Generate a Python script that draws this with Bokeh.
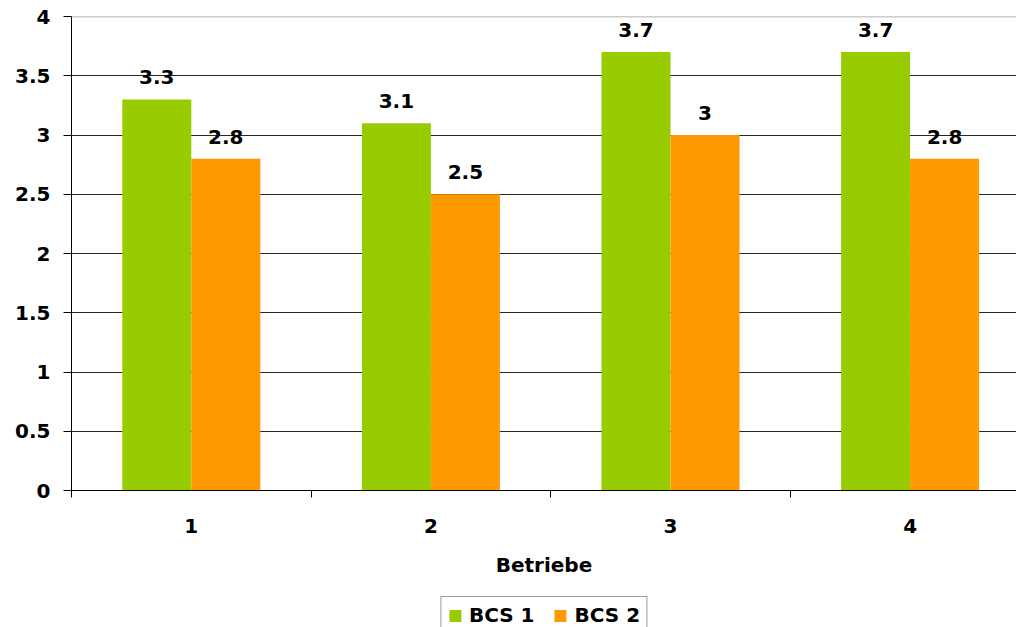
from bokeh.plotting import figure
from bokeh.layouts import column
from bokeh.models import (ColumnDataSource, FixedTicker, Span, Legend, LegendItem,
                          Range1d, LabelSet)
from bokeh.core.properties import value
from bokeh.embed import file_html
from bokeh.resources import INLINE

categories = ["1", "2", "3", "4"]
bcs1 = [3.3, 3.1, 3.7, 3.7]
bcs2 = [2.8, 2.5, 3.0, 2.8]
series_names = ["BCS 1", "BCS 2"]
colors = ["#99CC00", "#FF9900"]
x_title = "Betriebe"

FONT = "DejaVu Sans"
FS = "20px"
bar_w = 0.288

centers = [i + 0.5 for i in range(len(categories))]

p = figure(width=1016, height=592, output_backend="svg", toolbar_location=None,
           x_range=Range1d(0, 945 / 239.6), y_range=Range1d(0, 4),
           min_border_left=71, min_border_right=0, min_border_top=16, min_border_bottom=102)
p.outline_line_color = None
p.background_fill_color = "white"
p.border_fill_color = "white"

src1 = ColumnDataSource(dict(x=[c - bar_w / 2 for c in centers], top=bcs1,
                             lab=[f"{v:g}" for v in bcs1]))
src2 = ColumnDataSource(dict(x=[c + bar_w / 2 for c in centers], top=bcs2,
                             lab=[f"{v:g}" for v in bcs2]))
r1 = p.vbar(x="x", top="top", width=bar_w, bottom=0, source=src1,
            fill_color=colors[0], line_color=None)
r2 = p.vbar(x="x", top="top", width=bar_w, bottom=0, source=src2,
            fill_color=colors[1], line_color=None)

for s in (src1, src2):
    p.add_layout(LabelSet(x="x", y="top", text="lab", source=s, y_offset=15,
                          text_align="center", text_baseline="alphabetic",
                          text_font=value(FONT), text_font_style="bold",
                          text_font_size=FS, text_color="black"))

# axes
p.xaxis.ticker = FixedTicker(ticks=centers, minor_ticks=[0, 1, 2, 3, 4])
p.xaxis.major_label_overrides = {c: lab for c, lab in zip(centers, categories)}
p.xaxis.major_tick_out = 0
p.xaxis.major_tick_in = 0
p.xaxis.minor_tick_out = 7
p.xaxis.minor_tick_in = 0
p.xaxis.minor_tick_line_color = "black"
p.xaxis.axis_line_color = "black"
p.xaxis.major_label_standoff = 21
p.xaxis.axis_label = x_title
p.xaxis.axis_label_standoff = 17
p.xaxis.axis_label_text_font = FONT
p.xaxis.axis_label_text_font_style = "bold"
p.xaxis.axis_label_text_font_size = FS
p.xaxis.axis_label_text_color = "black"

p.yaxis.ticker = FixedTicker(ticks=[0, 0.5, 1, 1.5, 2, 2.5, 3, 3.5, 4], minor_ticks=[])
p.yaxis.major_tick_out = 8
p.yaxis.major_tick_in = 0
p.yaxis.major_tick_line_color = "black"
p.yaxis.axis_line_color = "black"
p.yaxis.major_label_standoff = 13

for ax in (p.xaxis, p.yaxis):
    ax.major_label_text_font = FONT
    ax.major_label_text_font_style = "bold"
    ax.major_label_text_font_size = FS
    ax.major_label_text_color = "black"

p.xgrid.grid_line_color = None
p.ygrid.ticker = FixedTicker(ticks=[0.5, 1, 1.5, 2, 2.5, 3, 3.5])
p.ygrid.grid_line_color = "black"
p.ygrid.grid_line_alpha = 0.85
p.add_layout(Span(location=4, dimension="width", line_color="#999999", line_width=1.5))

# legend strip (frame is aligned with the main plot's frame by the column layout)
lf = figure(width=1016, height=35, output_backend="svg", toolbar_location=None,
            x_range=Range1d(0, 1), y_range=Range1d(0, 1),
            min_border_left=71, min_border_right=0, min_border_top=0, min_border_bottom=0)
lf.axis.visible = False
lf.grid.visible = False
lf.outline_line_color = None
lf.background_fill_color = "white"
lf.border_fill_color = "white"
lr1 = lf.vbar(x=[0.5], top=[0], bottom=0, width=0.01, fill_color=colors[0], line_color=None)
lr2 = lf.vbar(x=[0.5], top=[0], bottom=0, width=0.01, fill_color=colors[1], line_color=None)
legend = Legend(items=[LegendItem(label=series_names[0], renderers=[lr1]),
                       LegendItem(label=series_names[1], renderers=[lr2])],
                orientation="horizontal", location="top_center",
                label_text_font=FONT, label_text_font_style="bold",
                label_text_font_size=FS, label_text_color="black",
                glyph_width=15, glyph_height=15, label_standoff=7, spacing=18,
                padding=6, margin=4, border_line_color="#333333",
                border_line_width=1.5, background_fill_color="white")
lf.add_layout(legend, "center")

layout = column(p, lf, spacing=0)
open("out.html", "w").write(file_html(layout, INLINE))
